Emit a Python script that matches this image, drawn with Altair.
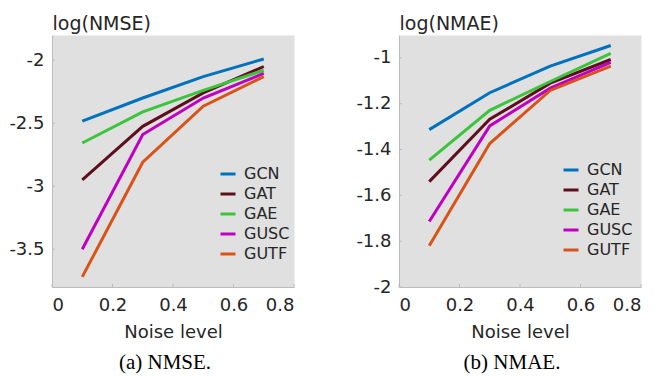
import altair as alt
import pandas as pd

# ---- data ----
noise = [0.1, 0.3, 0.5, 0.7]
methods = ["GCN", "GAT", "GAE", "GUSC", "GUTF"]
colors = ["#0072BD", "#5E0F1E", "#3CC43C", "#C000C0", "#D95319"]

nmse_gcn = [-2.484, -2.30, -2.13, -1.99]
nmse_gat = [-2.95, -2.525, -2.26, -2.05]
nmse_gae = [-2.657, -2.41, -2.24, -2.08]
nmse_gusc = [-3.50, -2.59, -2.30, -2.105]
nmse_gutf = [-3.72, -2.81, -2.365, -2.13]

nmae_gcn = [-1.313, -1.152, -1.036, -0.946]
nmae_gat = [-1.54, -1.268, -1.11, -1.007]
nmae_gae = [-1.446, -1.229, -1.103, -0.98]
nmae_gusc = [-1.714, -1.297, -1.132, -1.019]
nmae_gutf = [-1.82, -1.374, -1.142, -1.036]

x_ticks = [0, 0.2, 0.4, 0.6, 0.8]
nmse_ticks = [-3.5, -3, -2.5, -2]
nmae_ticks = [-2, -1.8, -1.6, -1.4, -1.2, -1]

FONT = "DejaVu Sans"
TXT = "#262626"
W, H = 242, 252
AXIS_GREY = "#BBBBBB"


def long_df(series):
    rows = []
    for m, vals in zip(methods, series):
        for x, v in zip(noise, vals):
            rows.append({"noise": x, "value": v, "method": m})
    return pd.DataFrame(rows)


def panel(series, ydomain, yticks, ytitle, caption, lx, ly):
    df = long_df(series)
    xscale = alt.Scale(domain=[0, 0.8], nice=False)
    yscale = alt.Scale(domain=ydomain, nice=False, zero=False)

    lines = alt.Chart(df).mark_line(strokeWidth=3).encode(
        x=alt.X("noise:Q", scale=xscale,
                axis=alt.Axis(values=x_ticks, title="Noise level", grid=False,
                              ticks=False, labelPadding=9,
                              labelExpr="toString(datum.value)",
                              labelFont=FONT, labelFontSize=18, labelColor=TXT,
                              titleFont=FONT, titleFontSize=18, titleFontWeight="normal",
                              titleColor=TXT, titleY=50, titleBaseline="alphabetic",
                              domainColor=AXIS_GREY, domainWidth=1)),
        y=alt.Y("value:Q", scale=yscale,
                axis=alt.Axis(values=yticks, title=ytitle, grid=False,
                              ticks=False, labelPadding=8,
                              labelExpr="toString(datum.value)",
                              labelFont=FONT, labelFontSize=18, labelColor=TXT,
                              titleFont=FONT, titleFontSize=19, titleFontWeight="normal",
                              titleColor=TXT, titleAngle=0, titleX=0, titleY=-6,
                              titleAlign="left", titleBaseline="alphabetic",
                              domainColor=AXIS_GREY, domainWidth=1)),
        color=alt.Color("method:N",
                        scale=alt.Scale(domain=methods, range=colors),
                        legend=alt.Legend(orient="none", legendX=lx, legendY=ly,
                                          title=None, symbolType="stroke",
                                          symbolSize=225, symbolStrokeWidth=3,
                                          labelFont=FONT, labelFontSize=16,
                                          labelColor=TXT, labelOffset=7,
                                          rowPadding=3, padding=0)),
    )

    xt = alt.Chart(pd.DataFrame({"t": x_ticks})).mark_rule(color=AXIS_GREY).encode(
        x=alt.X("t:Q", scale=xscale), y=alt.value(H), y2=alt.value(H - 3))
    yt = alt.Chart(pd.DataFrame({"t": yticks})).mark_rule(color=AXIS_GREY).encode(
        y=alt.Y("t:Q", scale=yscale), x=alt.value(0), x2=alt.value(3))

    return alt.layer(xt, yt, lines).properties(
        width=W, height=H,
        title=alt.TitleParams(caption, orient="bottom", anchor="middle",
                              font="Liberation Serif", fontSize=21,
                              fontWeight="normal", color="black", offset=11, dx=-8),
    )


left = panel([nmse_gcn, nmse_gat, nmse_gae, nmse_gusc, nmse_gutf],
             [-3.8, -1.8], nmse_ticks, "log(NMSE)", "(a) NMSE.", 167, 130)
right = panel([nmae_gcn, nmae_gat, nmae_gae, nmae_gusc, nmae_gutf],
              [-2.0, -0.9], nmae_ticks, "log(NMAE)", "(b) NMAE.", 163, 126)

chart = alt.hconcat(left, right, spacing=105, bounds="flush").resolve_scale(
    color="independent"
).properties(
    padding={"left": 0, "top": 5, "right": 0, "bottom": 0},
).configure_view(fill="#E0E0E0", stroke="transparent")

chart.save("out.html", embed_options={"renderer": "svg", "actions": False})
